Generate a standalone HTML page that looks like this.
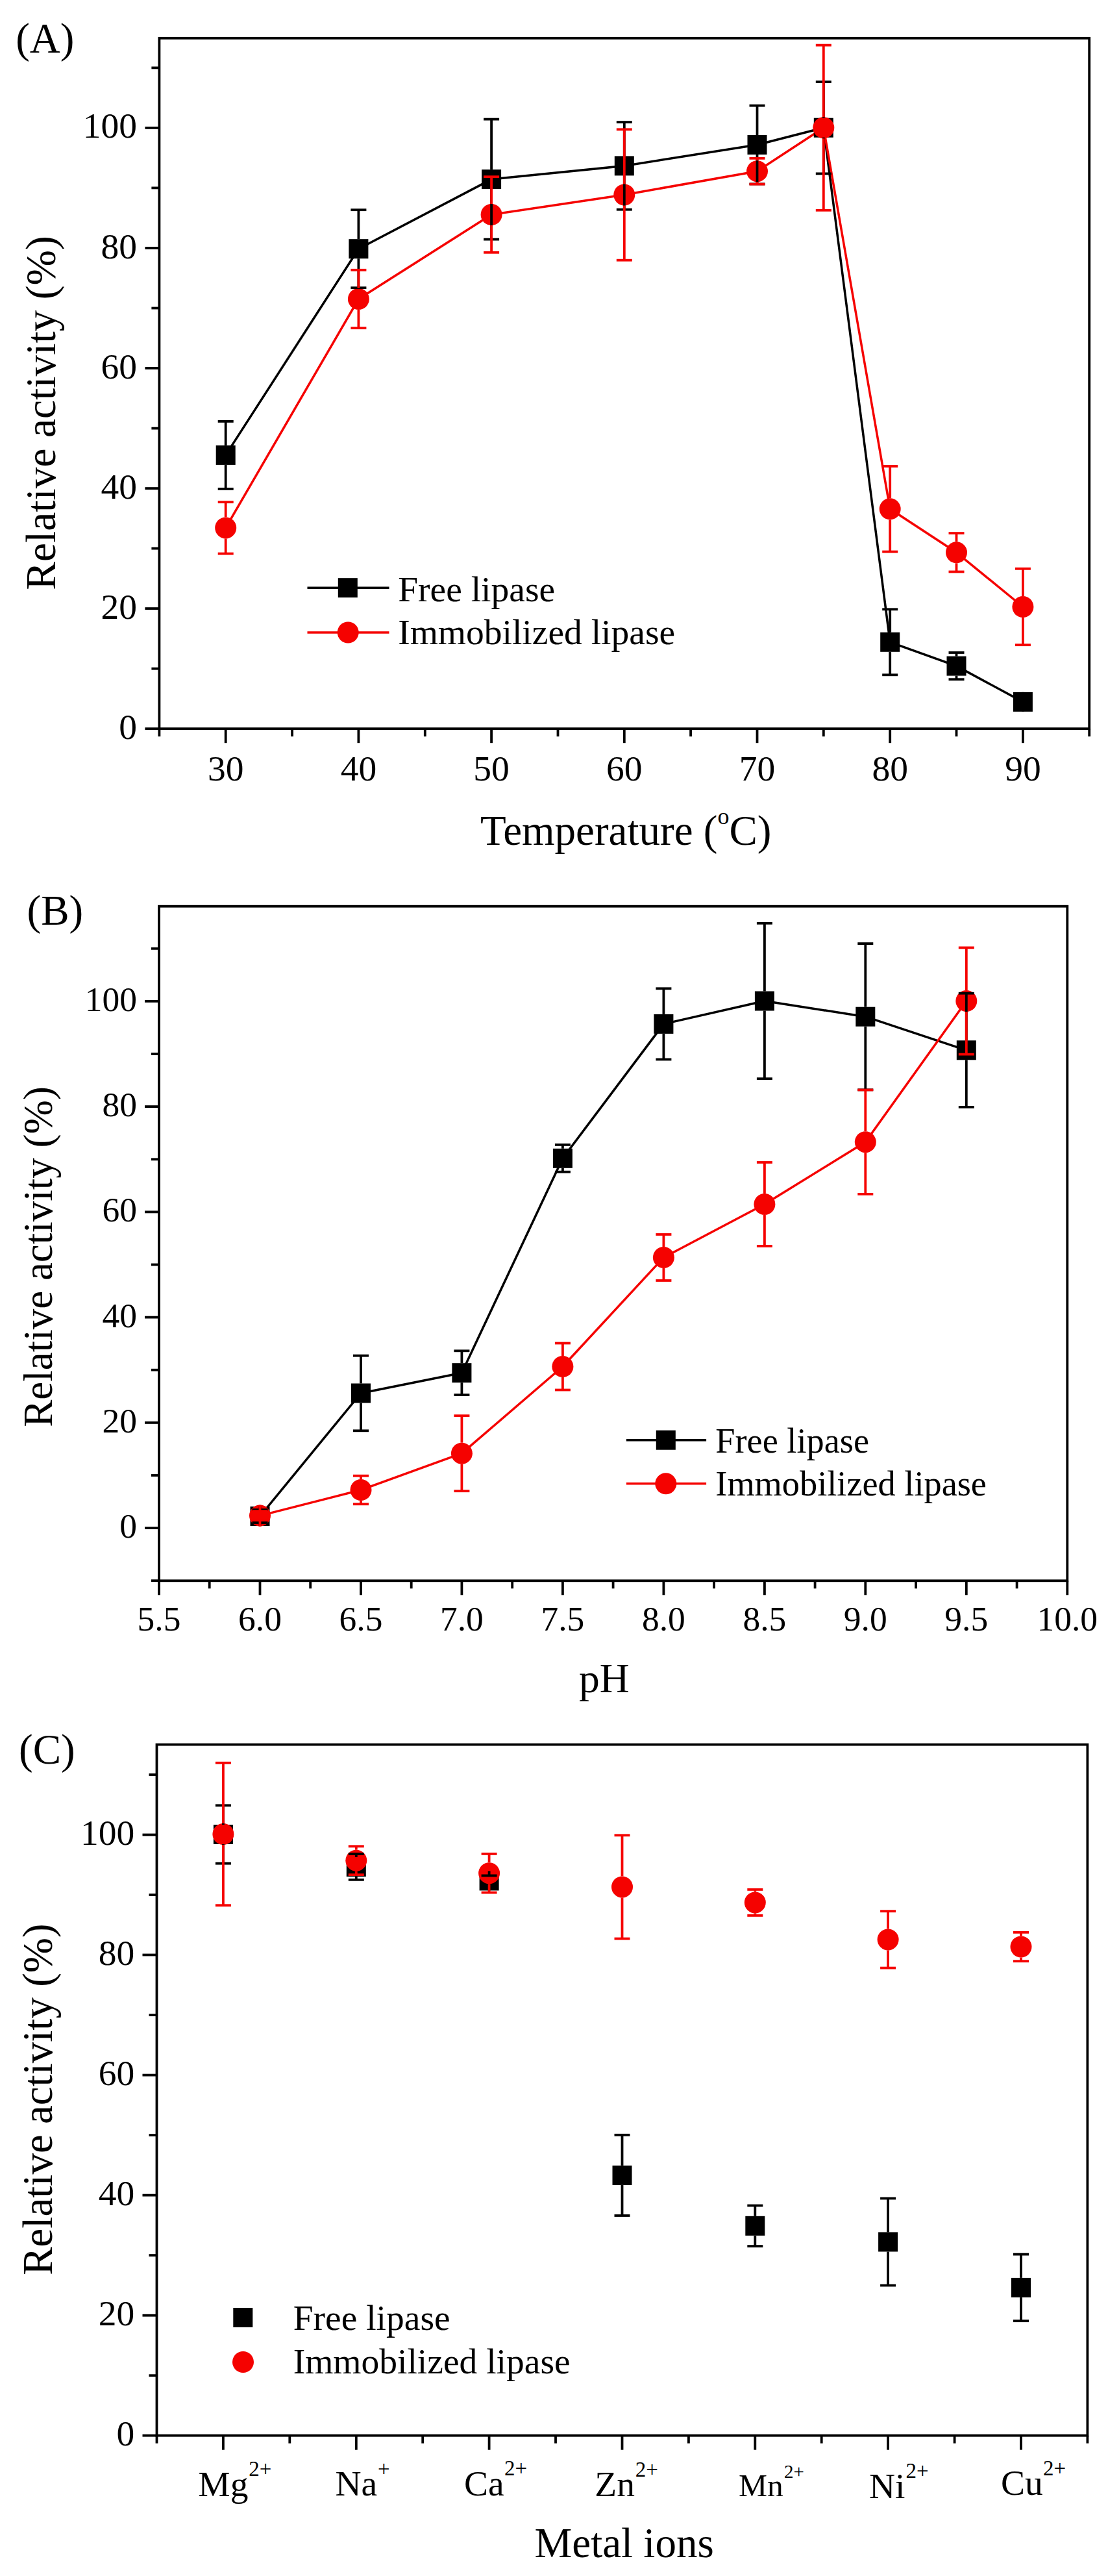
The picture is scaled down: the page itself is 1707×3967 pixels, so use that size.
<!DOCTYPE html><html><head><meta charset="utf-8"><title>Lipase activity</title><style>html,body{margin:0;padding:0;background:#fff}svg{display:block}text{font-family:'Liberation Serif', 'Times New Roman', serif;fill:#000}</style></head><body>
<svg width="1707" height="3967" viewBox="0 0 1707 3967">
<rect width="1707" height="3967" fill="#fff"/>
<line x1="347.7" y1="1122.2" x2="347.7" y2="1144.2" stroke="#000" stroke-width="3.8" stroke-linecap="butt"/>
<line x1="552.4" y1="1122.2" x2="552.4" y2="1144.2" stroke="#000" stroke-width="3.8" stroke-linecap="butt"/>
<line x1="757.1" y1="1122.2" x2="757.1" y2="1144.2" stroke="#000" stroke-width="3.8" stroke-linecap="butt"/>
<line x1="961.8" y1="1122.2" x2="961.8" y2="1144.2" stroke="#000" stroke-width="3.8" stroke-linecap="butt"/>
<line x1="1166.5" y1="1122.2" x2="1166.5" y2="1144.2" stroke="#000" stroke-width="3.8" stroke-linecap="butt"/>
<line x1="1371.2" y1="1122.2" x2="1371.2" y2="1144.2" stroke="#000" stroke-width="3.8" stroke-linecap="butt"/>
<line x1="1575.9" y1="1122.2" x2="1575.9" y2="1144.2" stroke="#000" stroke-width="3.8" stroke-linecap="butt"/>
<line x1="245.4" y1="1122.2" x2="245.4" y2="1134.2" stroke="#000" stroke-width="3.8" stroke-linecap="butt"/>
<line x1="450.1" y1="1122.2" x2="450.1" y2="1134.2" stroke="#000" stroke-width="3.8" stroke-linecap="butt"/>
<line x1="654.8" y1="1122.2" x2="654.8" y2="1134.2" stroke="#000" stroke-width="3.8" stroke-linecap="butt"/>
<line x1="859.5" y1="1122.2" x2="859.5" y2="1134.2" stroke="#000" stroke-width="3.8" stroke-linecap="butt"/>
<line x1="1064.1" y1="1122.2" x2="1064.1" y2="1134.2" stroke="#000" stroke-width="3.8" stroke-linecap="butt"/>
<line x1="1268.8" y1="1122.2" x2="1268.8" y2="1134.2" stroke="#000" stroke-width="3.8" stroke-linecap="butt"/>
<line x1="1473.5" y1="1122.2" x2="1473.5" y2="1134.2" stroke="#000" stroke-width="3.8" stroke-linecap="butt"/>
<line x1="1678.2" y1="1122.2" x2="1678.2" y2="1134.2" stroke="#000" stroke-width="3.8" stroke-linecap="butt"/>
<line x1="245.4" y1="1122.2" x2="223.4" y2="1122.2" stroke="#000" stroke-width="3.8" stroke-linecap="butt"/>
<line x1="245.4" y1="937.1" x2="223.4" y2="937.1" stroke="#000" stroke-width="3.8" stroke-linecap="butt"/>
<line x1="245.4" y1="752.1" x2="223.4" y2="752.1" stroke="#000" stroke-width="3.8" stroke-linecap="butt"/>
<line x1="245.4" y1="567.0" x2="223.4" y2="567.0" stroke="#000" stroke-width="3.8" stroke-linecap="butt"/>
<line x1="245.4" y1="382.0" x2="223.4" y2="382.0" stroke="#000" stroke-width="3.8" stroke-linecap="butt"/>
<line x1="245.4" y1="196.9" x2="223.4" y2="196.9" stroke="#000" stroke-width="3.8" stroke-linecap="butt"/>
<line x1="245.4" y1="1029.7" x2="233.4" y2="1029.7" stroke="#000" stroke-width="3.8" stroke-linecap="butt"/>
<line x1="245.4" y1="844.6" x2="233.4" y2="844.6" stroke="#000" stroke-width="3.8" stroke-linecap="butt"/>
<line x1="245.4" y1="659.6" x2="233.4" y2="659.6" stroke="#000" stroke-width="3.8" stroke-linecap="butt"/>
<line x1="245.4" y1="474.5" x2="233.4" y2="474.5" stroke="#000" stroke-width="3.8" stroke-linecap="butt"/>
<line x1="245.4" y1="289.4" x2="233.4" y2="289.4" stroke="#000" stroke-width="3.8" stroke-linecap="butt"/>
<line x1="245.4" y1="104.4" x2="233.4" y2="104.4" stroke="#000" stroke-width="3.8" stroke-linecap="butt"/>
<rect x="245.4" y="58.8" width="1432.8" height="1063.4" fill="none" stroke="#000" stroke-width="3.8" stroke-linejoin="miter"/>
<polyline points="347.7,700.9 552.4,383.2 757.1,276.1 961.8,255.4 1166.5,223.0 1268.8,196.7 1371.2,988.8 1473.5,1025.6 1575.9,1080.9" fill="none" stroke="#000" stroke-width="3.5" stroke-linejoin="round"/>
<polyline points="347.7,812.9 552.4,460.5 757.1,330.5 961.8,300.0 1166.5,263.7 1268.8,196.7 1371.2,783.8 1473.5,850.8 1575.9,934.5" fill="none" stroke="#f50200" stroke-width="3.5" stroke-linejoin="round"/>
<rect x="332.7" y="685.9" width="30.0" height="30.0" fill="#000"/>
<rect x="537.4" y="368.2" width="30.0" height="30.0" fill="#000"/>
<rect x="742.1" y="261.1" width="30.0" height="30.0" fill="#000"/>
<rect x="946.8" y="240.4" width="30.0" height="30.0" fill="#000"/>
<rect x="1151.5" y="208.0" width="30.0" height="30.0" fill="#000"/>
<rect x="1253.8" y="181.7" width="30.0" height="30.0" fill="#000"/>
<rect x="1356.2" y="973.8" width="30.0" height="30.0" fill="#000"/>
<rect x="1458.5" y="1010.6" width="30.0" height="30.0" fill="#000"/>
<rect x="1560.9" y="1065.9" width="30.0" height="30.0" fill="#000"/>
<circle cx="347.7" cy="812.9" r="16.5" fill="#f50200"/>
<circle cx="552.4" cy="460.5" r="16.5" fill="#f50200"/>
<circle cx="757.1" cy="330.5" r="16.5" fill="#f50200"/>
<circle cx="961.8" cy="300.0" r="16.5" fill="#f50200"/>
<circle cx="1166.5" cy="263.7" r="16.5" fill="#f50200"/>
<circle cx="1268.8" cy="196.7" r="16.5" fill="#f50200"/>
<circle cx="1371.2" cy="783.8" r="16.5" fill="#f50200"/>
<circle cx="1473.5" cy="850.8" r="16.5" fill="#f50200"/>
<circle cx="1575.9" cy="934.5" r="16.5" fill="#f50200"/>
<line x1="347.7" y1="685.9" x2="347.7" y2="648.9" stroke="#000" stroke-width="3.8" stroke-linecap="butt"/>
<line x1="347.7" y1="715.9" x2="347.7" y2="752.9" stroke="#000" stroke-width="3.8" stroke-linecap="butt"/>
<line x1="335.7" y1="648.9" x2="359.7" y2="648.9" stroke="#000" stroke-width="3.8" stroke-linecap="butt"/>
<line x1="335.7" y1="752.9" x2="359.7" y2="752.9" stroke="#000" stroke-width="3.8" stroke-linecap="butt"/>
<line x1="552.4" y1="368.2" x2="552.4" y2="323.2" stroke="#000" stroke-width="3.8" stroke-linecap="butt"/>
<line x1="552.4" y1="398.2" x2="552.4" y2="443.2" stroke="#000" stroke-width="3.8" stroke-linecap="butt"/>
<line x1="540.4" y1="323.2" x2="564.4" y2="323.2" stroke="#000" stroke-width="3.8" stroke-linecap="butt"/>
<line x1="540.4" y1="443.2" x2="564.4" y2="443.2" stroke="#000" stroke-width="3.8" stroke-linecap="butt"/>
<line x1="757.1" y1="261.1" x2="757.1" y2="183.6" stroke="#000" stroke-width="3.8" stroke-linecap="butt"/>
<line x1="757.1" y1="291.1" x2="757.1" y2="368.6" stroke="#000" stroke-width="3.8" stroke-linecap="butt"/>
<line x1="745.1" y1="183.6" x2="769.1" y2="183.6" stroke="#000" stroke-width="3.8" stroke-linecap="butt"/>
<line x1="745.1" y1="368.6" x2="769.1" y2="368.6" stroke="#000" stroke-width="3.8" stroke-linecap="butt"/>
<line x1="961.8" y1="240.4" x2="961.8" y2="188.1" stroke="#000" stroke-width="3.8" stroke-linecap="butt"/>
<line x1="961.8" y1="270.4" x2="961.8" y2="322.7" stroke="#000" stroke-width="3.8" stroke-linecap="butt"/>
<line x1="949.8" y1="188.1" x2="973.8" y2="188.1" stroke="#000" stroke-width="3.8" stroke-linecap="butt"/>
<line x1="949.8" y1="322.7" x2="973.8" y2="322.7" stroke="#000" stroke-width="3.8" stroke-linecap="butt"/>
<line x1="1166.5" y1="208.0" x2="1166.5" y2="162.6" stroke="#000" stroke-width="3.8" stroke-linecap="butt"/>
<line x1="1166.5" y1="238.0" x2="1166.5" y2="283.4" stroke="#000" stroke-width="3.8" stroke-linecap="butt"/>
<line x1="1154.5" y1="162.6" x2="1178.5" y2="162.6" stroke="#000" stroke-width="3.8" stroke-linecap="butt"/>
<line x1="1154.5" y1="283.4" x2="1178.5" y2="283.4" stroke="#000" stroke-width="3.8" stroke-linecap="butt"/>
<line x1="1268.8" y1="181.7" x2="1268.8" y2="126.0" stroke="#000" stroke-width="3.8" stroke-linecap="butt"/>
<line x1="1268.8" y1="211.7" x2="1268.8" y2="267.4" stroke="#000" stroke-width="3.8" stroke-linecap="butt"/>
<line x1="1256.8" y1="126.0" x2="1280.8" y2="126.0" stroke="#000" stroke-width="3.8" stroke-linecap="butt"/>
<line x1="1256.8" y1="267.4" x2="1280.8" y2="267.4" stroke="#000" stroke-width="3.8" stroke-linecap="butt"/>
<line x1="1371.2" y1="973.8" x2="1371.2" y2="938.3" stroke="#000" stroke-width="3.8" stroke-linecap="butt"/>
<line x1="1371.2" y1="1003.8" x2="1371.2" y2="1039.3" stroke="#000" stroke-width="3.8" stroke-linecap="butt"/>
<line x1="1359.2" y1="938.3" x2="1383.2" y2="938.3" stroke="#000" stroke-width="3.8" stroke-linecap="butt"/>
<line x1="1359.2" y1="1039.3" x2="1383.2" y2="1039.3" stroke="#000" stroke-width="3.8" stroke-linecap="butt"/>
<line x1="1473.5" y1="1010.6" x2="1473.5" y2="1005.0" stroke="#000" stroke-width="3.8" stroke-linecap="butt"/>
<line x1="1473.5" y1="1040.6" x2="1473.5" y2="1046.2" stroke="#000" stroke-width="3.8" stroke-linecap="butt"/>
<line x1="1461.5" y1="1005.0" x2="1485.5" y2="1005.0" stroke="#000" stroke-width="3.8" stroke-linecap="butt"/>
<line x1="1461.5" y1="1046.2" x2="1485.5" y2="1046.2" stroke="#000" stroke-width="3.8" stroke-linecap="butt"/>
<line x1="1575.9" y1="1065.9" x2="1575.9" y2="1074.9" stroke="#000" stroke-width="3.8" stroke-linecap="butt"/>
<line x1="1575.9" y1="1095.9" x2="1575.9" y2="1086.9" stroke="#000" stroke-width="3.8" stroke-linecap="butt"/>
<line x1="1563.9" y1="1074.9" x2="1587.9" y2="1074.9" stroke="#000" stroke-width="3.8" stroke-linecap="butt"/>
<line x1="1563.9" y1="1086.9" x2="1587.9" y2="1086.9" stroke="#000" stroke-width="3.8" stroke-linecap="butt"/>
<line x1="347.7" y1="796.4" x2="347.7" y2="773.2" stroke="#f50200" stroke-width="3.8" stroke-linecap="butt"/>
<line x1="347.7" y1="829.4" x2="347.7" y2="852.6" stroke="#f50200" stroke-width="3.8" stroke-linecap="butt"/>
<line x1="335.7" y1="773.2" x2="359.7" y2="773.2" stroke="#f50200" stroke-width="3.8" stroke-linecap="butt"/>
<line x1="335.7" y1="852.6" x2="359.7" y2="852.6" stroke="#f50200" stroke-width="3.8" stroke-linecap="butt"/>
<line x1="552.4" y1="444.0" x2="552.4" y2="415.8" stroke="#f50200" stroke-width="3.8" stroke-linecap="butt"/>
<line x1="552.4" y1="477.0" x2="552.4" y2="505.2" stroke="#f50200" stroke-width="3.8" stroke-linecap="butt"/>
<line x1="540.4" y1="415.8" x2="564.4" y2="415.8" stroke="#f50200" stroke-width="3.8" stroke-linecap="butt"/>
<line x1="540.4" y1="505.2" x2="564.4" y2="505.2" stroke="#f50200" stroke-width="3.8" stroke-linecap="butt"/>
<line x1="757.1" y1="314.0" x2="757.1" y2="272.2" stroke="#f50200" stroke-width="3.8" stroke-linecap="butt"/>
<line x1="757.1" y1="347.0" x2="757.1" y2="388.8" stroke="#f50200" stroke-width="3.8" stroke-linecap="butt"/>
<line x1="745.1" y1="272.2" x2="769.1" y2="272.2" stroke="#f50200" stroke-width="3.8" stroke-linecap="butt"/>
<line x1="745.1" y1="388.8" x2="769.1" y2="388.8" stroke="#f50200" stroke-width="3.8" stroke-linecap="butt"/>
<line x1="961.8" y1="283.5" x2="961.8" y2="199.3" stroke="#f50200" stroke-width="3.8" stroke-linecap="butt"/>
<line x1="961.8" y1="316.5" x2="961.8" y2="400.7" stroke="#f50200" stroke-width="3.8" stroke-linecap="butt"/>
<line x1="949.8" y1="199.3" x2="973.8" y2="199.3" stroke="#f50200" stroke-width="3.8" stroke-linecap="butt"/>
<line x1="949.8" y1="400.7" x2="973.8" y2="400.7" stroke="#f50200" stroke-width="3.8" stroke-linecap="butt"/>
<line x1="1166.5" y1="247.2" x2="1166.5" y2="243.8" stroke="#f50200" stroke-width="3.8" stroke-linecap="butt"/>
<line x1="1166.5" y1="280.2" x2="1166.5" y2="283.6" stroke="#f50200" stroke-width="3.8" stroke-linecap="butt"/>
<line x1="1154.5" y1="243.8" x2="1178.5" y2="243.8" stroke="#f50200" stroke-width="3.8" stroke-linecap="butt"/>
<line x1="1154.5" y1="283.6" x2="1178.5" y2="283.6" stroke="#f50200" stroke-width="3.8" stroke-linecap="butt"/>
<line x1="1268.8" y1="180.2" x2="1268.8" y2="69.6" stroke="#f50200" stroke-width="3.8" stroke-linecap="butt"/>
<line x1="1268.8" y1="213.2" x2="1268.8" y2="323.8" stroke="#f50200" stroke-width="3.8" stroke-linecap="butt"/>
<line x1="1256.8" y1="69.6" x2="1280.8" y2="69.6" stroke="#f50200" stroke-width="3.8" stroke-linecap="butt"/>
<line x1="1256.8" y1="323.8" x2="1280.8" y2="323.8" stroke="#f50200" stroke-width="3.8" stroke-linecap="butt"/>
<line x1="1371.2" y1="767.3" x2="1371.2" y2="718.0" stroke="#f50200" stroke-width="3.8" stroke-linecap="butt"/>
<line x1="1371.2" y1="800.3" x2="1371.2" y2="849.6" stroke="#f50200" stroke-width="3.8" stroke-linecap="butt"/>
<line x1="1359.2" y1="718.0" x2="1383.2" y2="718.0" stroke="#f50200" stroke-width="3.8" stroke-linecap="butt"/>
<line x1="1359.2" y1="849.6" x2="1383.2" y2="849.6" stroke="#f50200" stroke-width="3.8" stroke-linecap="butt"/>
<line x1="1473.5" y1="834.3" x2="1473.5" y2="821.1" stroke="#f50200" stroke-width="3.8" stroke-linecap="butt"/>
<line x1="1473.5" y1="867.3" x2="1473.5" y2="880.5" stroke="#f50200" stroke-width="3.8" stroke-linecap="butt"/>
<line x1="1461.5" y1="821.1" x2="1485.5" y2="821.1" stroke="#f50200" stroke-width="3.8" stroke-linecap="butt"/>
<line x1="1461.5" y1="880.5" x2="1485.5" y2="880.5" stroke="#f50200" stroke-width="3.8" stroke-linecap="butt"/>
<line x1="1575.9" y1="918.0" x2="1575.9" y2="875.8" stroke="#f50200" stroke-width="3.8" stroke-linecap="butt"/>
<line x1="1575.9" y1="951.0" x2="1575.9" y2="993.2" stroke="#f50200" stroke-width="3.8" stroke-linecap="butt"/>
<line x1="1563.9" y1="875.8" x2="1587.9" y2="875.8" stroke="#f50200" stroke-width="3.8" stroke-linecap="butt"/>
<line x1="1563.9" y1="993.2" x2="1587.9" y2="993.2" stroke="#f50200" stroke-width="3.8" stroke-linecap="butt"/>
<text x="211.0" y="1137.7" font-size="55.5" text-anchor="end">0</text>
<text x="211.0" y="952.6" font-size="55.5" text-anchor="end">20</text>
<text x="211.0" y="767.6" font-size="55.5" text-anchor="end">40</text>
<text x="211.0" y="582.5" font-size="55.5" text-anchor="end">60</text>
<text x="211.0" y="397.5" font-size="55.5" text-anchor="end">80</text>
<text x="211.0" y="212.4" font-size="55.5" text-anchor="end">100</text>
<text x="347.7" y="1201.5" font-size="55.5" text-anchor="middle">30</text>
<text x="552.4" y="1201.5" font-size="55.5" text-anchor="middle">40</text>
<text x="757.1" y="1201.5" font-size="55.5" text-anchor="middle">50</text>
<text x="961.8" y="1201.5" font-size="55.5" text-anchor="middle">60</text>
<text x="1166.5" y="1201.5" font-size="55.5" text-anchor="middle">70</text>
<text x="1371.2" y="1201.5" font-size="55.5" text-anchor="middle">80</text>
<text x="1575.9" y="1201.5" font-size="55.5" text-anchor="middle">90</text>
<text x="24.2" y="80.5" font-size="65" text-anchor="start">(A)</text>
<text transform="translate(84.6,635.9) rotate(-90)" font-size="65.5" text-anchor="middle">Relative activity (%)</text>
<text x="740" y="1301.2" font-size="65">Temperature (<tspan font-size="36" dy="-32">o</tspan><tspan dy="32">C)</tspan></text>
<line x1="473.5" y1="905.2" x2="599.5" y2="905.2" stroke="#000" stroke-width="3.5" stroke-linecap="butt"/>
<rect x="520.8" y="890.2" width="30.0" height="30.0" fill="#000"/>
<line x1="473.5" y1="974.0" x2="599.5" y2="974.0" stroke="#f50200" stroke-width="3.5" stroke-linecap="butt"/>
<circle cx="536.2" cy="974.0" r="16.5" fill="#f50200"/>
<text x="613.2" y="925.5" font-size="55.5" text-anchor="start">Free lipase</text>
<text x="613.2" y="991.9" font-size="55.5" text-anchor="start">Immobilized lipase</text>
<line x1="245.0" y1="2434.3" x2="245.0" y2="2456.3" stroke="#000" stroke-width="3.8" stroke-linecap="butt"/>
<line x1="400.5" y1="2434.3" x2="400.5" y2="2456.3" stroke="#000" stroke-width="3.8" stroke-linecap="butt"/>
<line x1="556.0" y1="2434.3" x2="556.0" y2="2456.3" stroke="#000" stroke-width="3.8" stroke-linecap="butt"/>
<line x1="711.4" y1="2434.3" x2="711.4" y2="2456.3" stroke="#000" stroke-width="3.8" stroke-linecap="butt"/>
<line x1="866.9" y1="2434.3" x2="866.9" y2="2456.3" stroke="#000" stroke-width="3.8" stroke-linecap="butt"/>
<line x1="1022.4" y1="2434.3" x2="1022.4" y2="2456.3" stroke="#000" stroke-width="3.8" stroke-linecap="butt"/>
<line x1="1177.9" y1="2434.3" x2="1177.9" y2="2456.3" stroke="#000" stroke-width="3.8" stroke-linecap="butt"/>
<line x1="1333.3" y1="2434.3" x2="1333.3" y2="2456.3" stroke="#000" stroke-width="3.8" stroke-linecap="butt"/>
<line x1="1488.8" y1="2434.3" x2="1488.8" y2="2456.3" stroke="#000" stroke-width="3.8" stroke-linecap="butt"/>
<line x1="1644.3" y1="2434.3" x2="1644.3" y2="2456.3" stroke="#000" stroke-width="3.8" stroke-linecap="butt"/>
<line x1="322.7" y1="2434.3" x2="322.7" y2="2446.3" stroke="#000" stroke-width="3.8" stroke-linecap="butt"/>
<line x1="478.2" y1="2434.3" x2="478.2" y2="2446.3" stroke="#000" stroke-width="3.8" stroke-linecap="butt"/>
<line x1="633.7" y1="2434.3" x2="633.7" y2="2446.3" stroke="#000" stroke-width="3.8" stroke-linecap="butt"/>
<line x1="789.2" y1="2434.3" x2="789.2" y2="2446.3" stroke="#000" stroke-width="3.8" stroke-linecap="butt"/>
<line x1="944.6" y1="2434.3" x2="944.6" y2="2446.3" stroke="#000" stroke-width="3.8" stroke-linecap="butt"/>
<line x1="1100.1" y1="2434.3" x2="1100.1" y2="2446.3" stroke="#000" stroke-width="3.8" stroke-linecap="butt"/>
<line x1="1255.6" y1="2434.3" x2="1255.6" y2="2446.3" stroke="#000" stroke-width="3.8" stroke-linecap="butt"/>
<line x1="1411.1" y1="2434.3" x2="1411.1" y2="2446.3" stroke="#000" stroke-width="3.8" stroke-linecap="butt"/>
<line x1="1566.6" y1="2434.3" x2="1566.6" y2="2446.3" stroke="#000" stroke-width="3.8" stroke-linecap="butt"/>
<line x1="245.0" y1="2353.1" x2="223.0" y2="2353.1" stroke="#000" stroke-width="3.8" stroke-linecap="butt"/>
<line x1="245.0" y1="2190.9" x2="223.0" y2="2190.9" stroke="#000" stroke-width="3.8" stroke-linecap="butt"/>
<line x1="245.0" y1="2028.6" x2="223.0" y2="2028.6" stroke="#000" stroke-width="3.8" stroke-linecap="butt"/>
<line x1="245.0" y1="1866.4" x2="223.0" y2="1866.4" stroke="#000" stroke-width="3.8" stroke-linecap="butt"/>
<line x1="245.0" y1="1704.1" x2="223.0" y2="1704.1" stroke="#000" stroke-width="3.8" stroke-linecap="butt"/>
<line x1="245.0" y1="1541.9" x2="223.0" y2="1541.9" stroke="#000" stroke-width="3.8" stroke-linecap="butt"/>
<line x1="245.0" y1="2434.2" x2="233.0" y2="2434.2" stroke="#000" stroke-width="3.8" stroke-linecap="butt"/>
<line x1="245.0" y1="2272.0" x2="233.0" y2="2272.0" stroke="#000" stroke-width="3.8" stroke-linecap="butt"/>
<line x1="245.0" y1="2109.7" x2="233.0" y2="2109.7" stroke="#000" stroke-width="3.8" stroke-linecap="butt"/>
<line x1="245.0" y1="1947.5" x2="233.0" y2="1947.5" stroke="#000" stroke-width="3.8" stroke-linecap="butt"/>
<line x1="245.0" y1="1785.3" x2="233.0" y2="1785.3" stroke="#000" stroke-width="3.8" stroke-linecap="butt"/>
<line x1="245.0" y1="1623.0" x2="233.0" y2="1623.0" stroke="#000" stroke-width="3.8" stroke-linecap="butt"/>
<line x1="245.0" y1="1460.8" x2="233.0" y2="1460.8" stroke="#000" stroke-width="3.8" stroke-linecap="butt"/>
<rect x="245.0" y="1395.7" width="1399.3" height="1038.6" fill="none" stroke="#000" stroke-width="3.8" stroke-linejoin="miter"/>
<polyline points="400.5,2335.0 556.0,2145.5 711.4,2114.2 866.9,1783.8 1022.4,1576.9 1177.9,1541.5 1333.3,1565.7 1488.8,1617.3" fill="none" stroke="#000" stroke-width="3.5" stroke-linejoin="round"/>
<polyline points="400.5,2334.1 556.0,2294.5 711.4,2238.2 866.9,2104.5 1022.4,1936.5 1177.9,1854.5 1333.3,1758.7 1488.8,1541.5" fill="none" stroke="#f50200" stroke-width="3.5" stroke-linejoin="round"/>
<rect x="385.5" y="2320.0" width="30.0" height="30.0" fill="#000"/>
<rect x="541.0" y="2130.5" width="30.0" height="30.0" fill="#000"/>
<rect x="696.4" y="2099.2" width="30.0" height="30.0" fill="#000"/>
<rect x="851.9" y="1768.8" width="30.0" height="30.0" fill="#000"/>
<rect x="1007.4" y="1561.9" width="30.0" height="30.0" fill="#000"/>
<rect x="1162.9" y="1526.5" width="30.0" height="30.0" fill="#000"/>
<rect x="1318.3" y="1550.7" width="30.0" height="30.0" fill="#000"/>
<rect x="1473.8" y="1602.3" width="30.0" height="30.0" fill="#000"/>
<circle cx="400.5" cy="2334.1" r="16.5" fill="#f50200"/>
<circle cx="556.0" cy="2294.5" r="16.5" fill="#f50200"/>
<circle cx="711.4" cy="2238.2" r="16.5" fill="#f50200"/>
<circle cx="866.9" cy="2104.5" r="16.5" fill="#f50200"/>
<circle cx="1022.4" cy="1936.5" r="16.5" fill="#f50200"/>
<circle cx="1177.9" cy="1854.5" r="16.5" fill="#f50200"/>
<circle cx="1333.3" cy="1758.7" r="16.5" fill="#f50200"/>
<circle cx="1488.8" cy="1541.5" r="16.5" fill="#f50200"/>
<line x1="400.5" y1="2320.0" x2="400.5" y2="2325.0" stroke="#000" stroke-width="3.8" stroke-linecap="butt"/>
<line x1="400.5" y1="2350.0" x2="400.5" y2="2345.0" stroke="#000" stroke-width="3.8" stroke-linecap="butt"/>
<line x1="388.5" y1="2325.0" x2="412.5" y2="2325.0" stroke="#000" stroke-width="3.8" stroke-linecap="butt"/>
<line x1="388.5" y1="2345.0" x2="412.5" y2="2345.0" stroke="#000" stroke-width="3.8" stroke-linecap="butt"/>
<line x1="556.0" y1="2130.5" x2="556.0" y2="2087.7" stroke="#000" stroke-width="3.8" stroke-linecap="butt"/>
<line x1="556.0" y1="2160.5" x2="556.0" y2="2203.3" stroke="#000" stroke-width="3.8" stroke-linecap="butt"/>
<line x1="544.0" y1="2087.7" x2="568.0" y2="2087.7" stroke="#000" stroke-width="3.8" stroke-linecap="butt"/>
<line x1="544.0" y1="2203.3" x2="568.0" y2="2203.3" stroke="#000" stroke-width="3.8" stroke-linecap="butt"/>
<line x1="711.4" y1="2099.2" x2="711.4" y2="2080.3" stroke="#000" stroke-width="3.8" stroke-linecap="butt"/>
<line x1="711.4" y1="2129.2" x2="711.4" y2="2148.1" stroke="#000" stroke-width="3.8" stroke-linecap="butt"/>
<line x1="699.4" y1="2080.3" x2="723.4" y2="2080.3" stroke="#000" stroke-width="3.8" stroke-linecap="butt"/>
<line x1="699.4" y1="2148.1" x2="723.4" y2="2148.1" stroke="#000" stroke-width="3.8" stroke-linecap="butt"/>
<line x1="866.9" y1="1768.8" x2="866.9" y2="1762.9" stroke="#000" stroke-width="3.8" stroke-linecap="butt"/>
<line x1="866.9" y1="1798.8" x2="866.9" y2="1804.7" stroke="#000" stroke-width="3.8" stroke-linecap="butt"/>
<line x1="854.9" y1="1762.9" x2="878.9" y2="1762.9" stroke="#000" stroke-width="3.8" stroke-linecap="butt"/>
<line x1="854.9" y1="1804.7" x2="878.9" y2="1804.7" stroke="#000" stroke-width="3.8" stroke-linecap="butt"/>
<line x1="1022.4" y1="1561.9" x2="1022.4" y2="1522.3" stroke="#000" stroke-width="3.8" stroke-linecap="butt"/>
<line x1="1022.4" y1="1591.9" x2="1022.4" y2="1631.5" stroke="#000" stroke-width="3.8" stroke-linecap="butt"/>
<line x1="1010.4" y1="1522.3" x2="1034.4" y2="1522.3" stroke="#000" stroke-width="3.8" stroke-linecap="butt"/>
<line x1="1010.4" y1="1631.5" x2="1034.4" y2="1631.5" stroke="#000" stroke-width="3.8" stroke-linecap="butt"/>
<line x1="1177.9" y1="1526.5" x2="1177.9" y2="1421.8" stroke="#000" stroke-width="3.8" stroke-linecap="butt"/>
<line x1="1177.9" y1="1556.5" x2="1177.9" y2="1661.2" stroke="#000" stroke-width="3.8" stroke-linecap="butt"/>
<line x1="1165.9" y1="1421.8" x2="1189.9" y2="1421.8" stroke="#000" stroke-width="3.8" stroke-linecap="butt"/>
<line x1="1165.9" y1="1661.2" x2="1189.9" y2="1661.2" stroke="#000" stroke-width="3.8" stroke-linecap="butt"/>
<line x1="1333.3" y1="1550.7" x2="1333.3" y2="1453.1" stroke="#000" stroke-width="3.8" stroke-linecap="butt"/>
<line x1="1333.3" y1="1580.7" x2="1333.3" y2="1678.3" stroke="#000" stroke-width="3.8" stroke-linecap="butt"/>
<line x1="1321.3" y1="1453.1" x2="1345.3" y2="1453.1" stroke="#000" stroke-width="3.8" stroke-linecap="butt"/>
<line x1="1321.3" y1="1678.3" x2="1345.3" y2="1678.3" stroke="#000" stroke-width="3.8" stroke-linecap="butt"/>
<line x1="1488.8" y1="1602.3" x2="1488.8" y2="1529.7" stroke="#000" stroke-width="3.8" stroke-linecap="butt"/>
<line x1="1488.8" y1="1632.3" x2="1488.8" y2="1704.9" stroke="#000" stroke-width="3.8" stroke-linecap="butt"/>
<line x1="1476.8" y1="1529.7" x2="1500.8" y2="1529.7" stroke="#000" stroke-width="3.8" stroke-linecap="butt"/>
<line x1="1476.8" y1="1704.9" x2="1500.8" y2="1704.9" stroke="#000" stroke-width="3.8" stroke-linecap="butt"/>
<line x1="400.5" y1="2317.6" x2="400.5" y2="2327.1" stroke="#f50200" stroke-width="3.8" stroke-linecap="butt"/>
<line x1="400.5" y1="2350.6" x2="400.5" y2="2341.1" stroke="#f50200" stroke-width="3.8" stroke-linecap="butt"/>
<line x1="388.5" y1="2327.1" x2="412.5" y2="2327.1" stroke="#f50200" stroke-width="3.8" stroke-linecap="butt"/>
<line x1="388.5" y1="2341.1" x2="412.5" y2="2341.1" stroke="#f50200" stroke-width="3.8" stroke-linecap="butt"/>
<line x1="556.0" y1="2278.0" x2="556.0" y2="2272.7" stroke="#f50200" stroke-width="3.8" stroke-linecap="butt"/>
<line x1="556.0" y1="2311.0" x2="556.0" y2="2316.3" stroke="#f50200" stroke-width="3.8" stroke-linecap="butt"/>
<line x1="544.0" y1="2272.7" x2="568.0" y2="2272.7" stroke="#f50200" stroke-width="3.8" stroke-linecap="butt"/>
<line x1="544.0" y1="2316.3" x2="568.0" y2="2316.3" stroke="#f50200" stroke-width="3.8" stroke-linecap="butt"/>
<line x1="711.4" y1="2221.7" x2="711.4" y2="2180.2" stroke="#f50200" stroke-width="3.8" stroke-linecap="butt"/>
<line x1="711.4" y1="2254.7" x2="711.4" y2="2296.2" stroke="#f50200" stroke-width="3.8" stroke-linecap="butt"/>
<line x1="699.4" y1="2180.2" x2="723.4" y2="2180.2" stroke="#f50200" stroke-width="3.8" stroke-linecap="butt"/>
<line x1="699.4" y1="2296.2" x2="723.4" y2="2296.2" stroke="#f50200" stroke-width="3.8" stroke-linecap="butt"/>
<line x1="866.9" y1="2088.0" x2="866.9" y2="2068.5" stroke="#f50200" stroke-width="3.8" stroke-linecap="butt"/>
<line x1="866.9" y1="2121.0" x2="866.9" y2="2140.5" stroke="#f50200" stroke-width="3.8" stroke-linecap="butt"/>
<line x1="854.9" y1="2068.5" x2="878.9" y2="2068.5" stroke="#f50200" stroke-width="3.8" stroke-linecap="butt"/>
<line x1="854.9" y1="2140.5" x2="878.9" y2="2140.5" stroke="#f50200" stroke-width="3.8" stroke-linecap="butt"/>
<line x1="1022.4" y1="1920.0" x2="1022.4" y2="1901.0" stroke="#f50200" stroke-width="3.8" stroke-linecap="butt"/>
<line x1="1022.4" y1="1953.0" x2="1022.4" y2="1972.0" stroke="#f50200" stroke-width="3.8" stroke-linecap="butt"/>
<line x1="1010.4" y1="1901.0" x2="1034.4" y2="1901.0" stroke="#f50200" stroke-width="3.8" stroke-linecap="butt"/>
<line x1="1010.4" y1="1972.0" x2="1034.4" y2="1972.0" stroke="#f50200" stroke-width="3.8" stroke-linecap="butt"/>
<line x1="1177.9" y1="1838.0" x2="1177.9" y2="1790.0" stroke="#f50200" stroke-width="3.8" stroke-linecap="butt"/>
<line x1="1177.9" y1="1871.0" x2="1177.9" y2="1919.0" stroke="#f50200" stroke-width="3.8" stroke-linecap="butt"/>
<line x1="1165.9" y1="1790.0" x2="1189.9" y2="1790.0" stroke="#f50200" stroke-width="3.8" stroke-linecap="butt"/>
<line x1="1165.9" y1="1919.0" x2="1189.9" y2="1919.0" stroke="#f50200" stroke-width="3.8" stroke-linecap="butt"/>
<line x1="1333.3" y1="1742.2" x2="1333.3" y2="1678.5" stroke="#f50200" stroke-width="3.8" stroke-linecap="butt"/>
<line x1="1333.3" y1="1775.2" x2="1333.3" y2="1838.9" stroke="#f50200" stroke-width="3.8" stroke-linecap="butt"/>
<line x1="1321.3" y1="1678.5" x2="1345.3" y2="1678.5" stroke="#f50200" stroke-width="3.8" stroke-linecap="butt"/>
<line x1="1321.3" y1="1838.9" x2="1345.3" y2="1838.9" stroke="#f50200" stroke-width="3.8" stroke-linecap="butt"/>
<line x1="1488.8" y1="1525.0" x2="1488.8" y2="1459.4" stroke="#f50200" stroke-width="3.8" stroke-linecap="butt"/>
<line x1="1488.8" y1="1558.0" x2="1488.8" y2="1623.6" stroke="#f50200" stroke-width="3.8" stroke-linecap="butt"/>
<line x1="1476.8" y1="1459.4" x2="1500.8" y2="1459.4" stroke="#f50200" stroke-width="3.8" stroke-linecap="butt"/>
<line x1="1476.8" y1="1623.6" x2="1500.8" y2="1623.6" stroke="#f50200" stroke-width="3.8" stroke-linecap="butt"/>
<text x="211.0" y="2368.1" font-size="53.5" text-anchor="end">0</text>
<text x="211.0" y="2205.9" font-size="53.5" text-anchor="end">20</text>
<text x="211.0" y="2043.6" font-size="53.5" text-anchor="end">40</text>
<text x="211.0" y="1881.4" font-size="53.5" text-anchor="end">60</text>
<text x="211.0" y="1719.1" font-size="53.5" text-anchor="end">80</text>
<text x="211.0" y="1556.9" font-size="53.5" text-anchor="end">100</text>
<text x="245.0" y="2510.5" font-size="53.5" text-anchor="middle">5.5</text>
<text x="400.5" y="2510.5" font-size="53.5" text-anchor="middle">6.0</text>
<text x="556.0" y="2510.5" font-size="53.5" text-anchor="middle">6.5</text>
<text x="711.4" y="2510.5" font-size="53.5" text-anchor="middle">7.0</text>
<text x="866.9" y="2510.5" font-size="53.5" text-anchor="middle">7.5</text>
<text x="1022.4" y="2510.5" font-size="53.5" text-anchor="middle">8.0</text>
<text x="1177.9" y="2510.5" font-size="53.5" text-anchor="middle">8.5</text>
<text x="1333.3" y="2510.5" font-size="53.5" text-anchor="middle">9.0</text>
<text x="1488.8" y="2510.5" font-size="53.5" text-anchor="middle">9.5</text>
<text x="1644.3" y="2510.5" font-size="53.5" text-anchor="middle">10.0</text>
<text x="41.6" y="1424.0" font-size="65" text-anchor="start">(B)</text>
<text transform="translate(80,1935.4) rotate(-90)" font-size="63" text-anchor="middle">Relative activity (%)</text>
<text x="892.0" y="2605.7" font-size="63.5" text-anchor="start">pH</text>
<line x1="964.9" y1="2217.7" x2="1088.1" y2="2217.7" stroke="#000" stroke-width="3.5" stroke-linecap="butt"/>
<rect x="1010.8" y="2202.7" width="30.0" height="30.0" fill="#000"/>
<line x1="964.9" y1="2284.8" x2="1088.1" y2="2284.8" stroke="#f50200" stroke-width="3.5" stroke-linecap="butt"/>
<circle cx="1025.8" cy="2284.8" r="16.5" fill="#f50200"/>
<text x="1102.3" y="2236.6" font-size="54.3" text-anchor="start">Free lipase</text>
<text x="1102.3" y="2303.2" font-size="54.3" text-anchor="start">Immobilized lipase</text>
<line x1="343.9" y1="3750.7" x2="343.9" y2="3772.7" stroke="#000" stroke-width="3.8" stroke-linecap="butt"/>
<line x1="548.8" y1="3750.7" x2="548.8" y2="3772.7" stroke="#000" stroke-width="3.8" stroke-linecap="butt"/>
<line x1="753.6" y1="3750.7" x2="753.6" y2="3772.7" stroke="#000" stroke-width="3.8" stroke-linecap="butt"/>
<line x1="958.5" y1="3750.7" x2="958.5" y2="3772.7" stroke="#000" stroke-width="3.8" stroke-linecap="butt"/>
<line x1="1163.3" y1="3750.7" x2="1163.3" y2="3772.7" stroke="#000" stroke-width="3.8" stroke-linecap="butt"/>
<line x1="1368.1" y1="3750.7" x2="1368.1" y2="3772.7" stroke="#000" stroke-width="3.8" stroke-linecap="butt"/>
<line x1="1573.0" y1="3750.7" x2="1573.0" y2="3772.7" stroke="#000" stroke-width="3.8" stroke-linecap="butt"/>
<line x1="241.5" y1="3750.7" x2="241.5" y2="3762.7" stroke="#000" stroke-width="3.8" stroke-linecap="butt"/>
<line x1="446.3" y1="3750.7" x2="446.3" y2="3762.7" stroke="#000" stroke-width="3.8" stroke-linecap="butt"/>
<line x1="651.2" y1="3750.7" x2="651.2" y2="3762.7" stroke="#000" stroke-width="3.8" stroke-linecap="butt"/>
<line x1="856.0" y1="3750.7" x2="856.0" y2="3762.7" stroke="#000" stroke-width="3.8" stroke-linecap="butt"/>
<line x1="1060.9" y1="3750.7" x2="1060.9" y2="3762.7" stroke="#000" stroke-width="3.8" stroke-linecap="butt"/>
<line x1="1265.7" y1="3750.7" x2="1265.7" y2="3762.7" stroke="#000" stroke-width="3.8" stroke-linecap="butt"/>
<line x1="1470.6" y1="3750.7" x2="1470.6" y2="3762.7" stroke="#000" stroke-width="3.8" stroke-linecap="butt"/>
<line x1="1675.4" y1="3750.7" x2="1675.4" y2="3762.7" stroke="#000" stroke-width="3.8" stroke-linecap="butt"/>
<line x1="241.5" y1="3750.7" x2="219.5" y2="3750.7" stroke="#000" stroke-width="3.8" stroke-linecap="butt"/>
<line x1="241.5" y1="3565.7" x2="219.5" y2="3565.7" stroke="#000" stroke-width="3.8" stroke-linecap="butt"/>
<line x1="241.5" y1="3380.6" x2="219.5" y2="3380.6" stroke="#000" stroke-width="3.8" stroke-linecap="butt"/>
<line x1="241.5" y1="3195.6" x2="219.5" y2="3195.6" stroke="#000" stroke-width="3.8" stroke-linecap="butt"/>
<line x1="241.5" y1="3010.5" x2="219.5" y2="3010.5" stroke="#000" stroke-width="3.8" stroke-linecap="butt"/>
<line x1="241.5" y1="2825.5" x2="219.5" y2="2825.5" stroke="#000" stroke-width="3.8" stroke-linecap="butt"/>
<line x1="241.5" y1="3658.2" x2="229.5" y2="3658.2" stroke="#000" stroke-width="3.8" stroke-linecap="butt"/>
<line x1="241.5" y1="3473.1" x2="229.5" y2="3473.1" stroke="#000" stroke-width="3.8" stroke-linecap="butt"/>
<line x1="241.5" y1="3288.1" x2="229.5" y2="3288.1" stroke="#000" stroke-width="3.8" stroke-linecap="butt"/>
<line x1="241.5" y1="3103.1" x2="229.5" y2="3103.1" stroke="#000" stroke-width="3.8" stroke-linecap="butt"/>
<line x1="241.5" y1="2918.0" x2="229.5" y2="2918.0" stroke="#000" stroke-width="3.8" stroke-linecap="butt"/>
<line x1="241.5" y1="2733.0" x2="229.5" y2="2733.0" stroke="#000" stroke-width="3.8" stroke-linecap="butt"/>
<rect x="241.5" y="2686.6" width="1433.9" height="1064.1" fill="none" stroke="#000" stroke-width="3.8" stroke-linejoin="miter"/>
<rect x="328.9" y="2810.0" width="30.0" height="30.0" fill="#000"/>
<rect x="533.8" y="2859.9" width="30.0" height="30.0" fill="#000"/>
<rect x="738.6" y="2881.4" width="30.0" height="30.0" fill="#000"/>
<rect x="943.5" y="3334.9" width="30.0" height="30.0" fill="#000"/>
<rect x="1148.3" y="3412.8" width="30.0" height="30.0" fill="#000"/>
<rect x="1353.1" y="3437.5" width="30.0" height="30.0" fill="#000"/>
<rect x="1558.0" y="3507.9" width="30.0" height="30.0" fill="#000"/>
<circle cx="343.9" cy="2824.5" r="16.5" fill="#f50200"/>
<circle cx="548.8" cy="2865.2" r="16.5" fill="#f50200"/>
<circle cx="753.6" cy="2884.7" r="16.5" fill="#f50200"/>
<circle cx="958.5" cy="2905.9" r="16.5" fill="#f50200"/>
<circle cx="1163.3" cy="2929.9" r="16.5" fill="#f50200"/>
<circle cx="1368.1" cy="2986.9" r="16.5" fill="#f50200"/>
<circle cx="1573.0" cy="2998.0" r="16.5" fill="#f50200"/>
<line x1="343.9" y1="2810.0" x2="343.9" y2="2780.3" stroke="#000" stroke-width="3.8" stroke-linecap="butt"/>
<line x1="343.9" y1="2840.0" x2="343.9" y2="2869.7" stroke="#000" stroke-width="3.8" stroke-linecap="butt"/>
<line x1="331.9" y1="2780.3" x2="355.9" y2="2780.3" stroke="#000" stroke-width="3.8" stroke-linecap="butt"/>
<line x1="331.9" y1="2869.7" x2="355.9" y2="2869.7" stroke="#000" stroke-width="3.8" stroke-linecap="butt"/>
<line x1="548.8" y1="2859.9" x2="548.8" y2="2855.0" stroke="#000" stroke-width="3.8" stroke-linecap="butt"/>
<line x1="548.8" y1="2889.9" x2="548.8" y2="2894.8" stroke="#000" stroke-width="3.8" stroke-linecap="butt"/>
<line x1="536.8" y1="2855.0" x2="560.8" y2="2855.0" stroke="#000" stroke-width="3.8" stroke-linecap="butt"/>
<line x1="536.8" y1="2894.8" x2="560.8" y2="2894.8" stroke="#000" stroke-width="3.8" stroke-linecap="butt"/>
<line x1="753.6" y1="2881.4" x2="753.6" y2="2888.4" stroke="#000" stroke-width="3.8" stroke-linecap="butt"/>
<line x1="753.6" y1="2911.4" x2="753.6" y2="2904.4" stroke="#000" stroke-width="3.8" stroke-linecap="butt"/>
<line x1="741.6" y1="2888.4" x2="765.6" y2="2888.4" stroke="#000" stroke-width="3.8" stroke-linecap="butt"/>
<line x1="741.6" y1="2904.4" x2="765.6" y2="2904.4" stroke="#000" stroke-width="3.8" stroke-linecap="butt"/>
<line x1="958.5" y1="3334.9" x2="958.5" y2="3287.8" stroke="#000" stroke-width="3.8" stroke-linecap="butt"/>
<line x1="958.5" y1="3364.9" x2="958.5" y2="3412.0" stroke="#000" stroke-width="3.8" stroke-linecap="butt"/>
<line x1="946.5" y1="3287.8" x2="970.5" y2="3287.8" stroke="#000" stroke-width="3.8" stroke-linecap="butt"/>
<line x1="946.5" y1="3412.0" x2="970.5" y2="3412.0" stroke="#000" stroke-width="3.8" stroke-linecap="butt"/>
<line x1="1163.3" y1="3412.8" x2="1163.3" y2="3396.5" stroke="#000" stroke-width="3.8" stroke-linecap="butt"/>
<line x1="1163.3" y1="3442.8" x2="1163.3" y2="3459.1" stroke="#000" stroke-width="3.8" stroke-linecap="butt"/>
<line x1="1151.3" y1="3396.5" x2="1175.3" y2="3396.5" stroke="#000" stroke-width="3.8" stroke-linecap="butt"/>
<line x1="1151.3" y1="3459.1" x2="1175.3" y2="3459.1" stroke="#000" stroke-width="3.8" stroke-linecap="butt"/>
<line x1="1368.1" y1="3437.5" x2="1368.1" y2="3385.5" stroke="#000" stroke-width="3.8" stroke-linecap="butt"/>
<line x1="1368.1" y1="3467.5" x2="1368.1" y2="3519.5" stroke="#000" stroke-width="3.8" stroke-linecap="butt"/>
<line x1="1356.1" y1="3385.5" x2="1380.1" y2="3385.5" stroke="#000" stroke-width="3.8" stroke-linecap="butt"/>
<line x1="1356.1" y1="3519.5" x2="1380.1" y2="3519.5" stroke="#000" stroke-width="3.8" stroke-linecap="butt"/>
<line x1="1573.0" y1="3507.9" x2="1573.0" y2="3471.6" stroke="#000" stroke-width="3.8" stroke-linecap="butt"/>
<line x1="1573.0" y1="3537.9" x2="1573.0" y2="3574.2" stroke="#000" stroke-width="3.8" stroke-linecap="butt"/>
<line x1="1561.0" y1="3471.6" x2="1585.0" y2="3471.6" stroke="#000" stroke-width="3.8" stroke-linecap="butt"/>
<line x1="1561.0" y1="3574.2" x2="1585.0" y2="3574.2" stroke="#000" stroke-width="3.8" stroke-linecap="butt"/>
<line x1="343.9" y1="2808.0" x2="343.9" y2="2714.8" stroke="#f50200" stroke-width="3.8" stroke-linecap="butt"/>
<line x1="343.9" y1="2841.0" x2="343.9" y2="2934.2" stroke="#f50200" stroke-width="3.8" stroke-linecap="butt"/>
<line x1="331.9" y1="2714.8" x2="355.9" y2="2714.8" stroke="#f50200" stroke-width="3.8" stroke-linecap="butt"/>
<line x1="331.9" y1="2934.2" x2="355.9" y2="2934.2" stroke="#f50200" stroke-width="3.8" stroke-linecap="butt"/>
<line x1="548.8" y1="2848.7" x2="548.8" y2="2843.3" stroke="#f50200" stroke-width="3.8" stroke-linecap="butt"/>
<line x1="548.8" y1="2881.7" x2="548.8" y2="2887.1" stroke="#f50200" stroke-width="3.8" stroke-linecap="butt"/>
<line x1="536.8" y1="2843.3" x2="560.8" y2="2843.3" stroke="#f50200" stroke-width="3.8" stroke-linecap="butt"/>
<line x1="536.8" y1="2887.1" x2="560.8" y2="2887.1" stroke="#f50200" stroke-width="3.8" stroke-linecap="butt"/>
<line x1="753.6" y1="2868.2" x2="753.6" y2="2854.9" stroke="#f50200" stroke-width="3.8" stroke-linecap="butt"/>
<line x1="753.6" y1="2901.2" x2="753.6" y2="2914.5" stroke="#f50200" stroke-width="3.8" stroke-linecap="butt"/>
<line x1="741.6" y1="2854.9" x2="765.6" y2="2854.9" stroke="#f50200" stroke-width="3.8" stroke-linecap="butt"/>
<line x1="741.6" y1="2914.5" x2="765.6" y2="2914.5" stroke="#f50200" stroke-width="3.8" stroke-linecap="butt"/>
<line x1="958.5" y1="2889.4" x2="958.5" y2="2826.3" stroke="#f50200" stroke-width="3.8" stroke-linecap="butt"/>
<line x1="958.5" y1="2922.4" x2="958.5" y2="2985.5" stroke="#f50200" stroke-width="3.8" stroke-linecap="butt"/>
<line x1="946.5" y1="2826.3" x2="970.5" y2="2826.3" stroke="#f50200" stroke-width="3.8" stroke-linecap="butt"/>
<line x1="946.5" y1="2985.5" x2="970.5" y2="2985.5" stroke="#f50200" stroke-width="3.8" stroke-linecap="butt"/>
<line x1="1163.3" y1="2913.4" x2="1163.3" y2="2909.9" stroke="#f50200" stroke-width="3.8" stroke-linecap="butt"/>
<line x1="1163.3" y1="2946.4" x2="1163.3" y2="2949.9" stroke="#f50200" stroke-width="3.8" stroke-linecap="butt"/>
<line x1="1151.3" y1="2909.9" x2="1175.3" y2="2909.9" stroke="#f50200" stroke-width="3.8" stroke-linecap="butt"/>
<line x1="1151.3" y1="2949.9" x2="1175.3" y2="2949.9" stroke="#f50200" stroke-width="3.8" stroke-linecap="butt"/>
<line x1="1368.1" y1="2970.4" x2="1368.1" y2="2943.2" stroke="#f50200" stroke-width="3.8" stroke-linecap="butt"/>
<line x1="1368.1" y1="3003.4" x2="1368.1" y2="3030.6" stroke="#f50200" stroke-width="3.8" stroke-linecap="butt"/>
<line x1="1356.1" y1="2943.2" x2="1380.1" y2="2943.2" stroke="#f50200" stroke-width="3.8" stroke-linecap="butt"/>
<line x1="1356.1" y1="3030.6" x2="1380.1" y2="3030.6" stroke="#f50200" stroke-width="3.8" stroke-linecap="butt"/>
<line x1="1573.0" y1="2981.5" x2="1573.0" y2="2975.8" stroke="#f50200" stroke-width="3.8" stroke-linecap="butt"/>
<line x1="1573.0" y1="3014.5" x2="1573.0" y2="3020.2" stroke="#f50200" stroke-width="3.8" stroke-linecap="butt"/>
<line x1="1561.0" y1="2975.8" x2="1585.0" y2="2975.8" stroke="#f50200" stroke-width="3.8" stroke-linecap="butt"/>
<line x1="1561.0" y1="3020.2" x2="1585.0" y2="3020.2" stroke="#f50200" stroke-width="3.8" stroke-linecap="butt"/>
<text x="207.3" y="3766.2" font-size="55.5" text-anchor="end">0</text>
<text x="207.3" y="3581.2" font-size="55.5" text-anchor="end">20</text>
<text x="207.3" y="3396.1" font-size="55.5" text-anchor="end">40</text>
<text x="207.3" y="3211.1" font-size="55.5" text-anchor="end">60</text>
<text x="207.3" y="3026.0" font-size="55.5" text-anchor="end">80</text>
<text x="207.3" y="2841.0" font-size="55.5" text-anchor="end">100</text>
<text x="305.3" y="3843.5" font-size="55.5" text-anchor="start">Mg</text>
<text x="383.2" y="3813.0" font-size="33" text-anchor="start">2+</text>
<text x="516.4" y="3842.5" font-size="55.5" text-anchor="start">Na</text>
<text x="582.0" y="3813.3" font-size="33" text-anchor="start">+</text>
<text x="715.1" y="3842.5" font-size="55.5" text-anchor="start">Ca</text>
<text x="777.0" y="3812.0" font-size="33" text-anchor="start">2+</text>
<text x="916.3" y="3844.0" font-size="55.5" text-anchor="start">Zn</text>
<text x="978.8" y="3814.0" font-size="33" text-anchor="start">2+</text>
<text x="1137.9" y="3844.0" font-size="49.5" text-anchor="start">Mn</text>
<text x="1208.0" y="3816.4" font-size="29" text-anchor="start">2+</text>
<text x="1338.9" y="3846.5" font-size="55.5" text-anchor="start">Ni</text>
<text x="1395.6" y="3815.8" font-size="33" text-anchor="start">2+</text>
<text x="1541.9" y="3842.0" font-size="55.5" text-anchor="start">Cu</text>
<text x="1607.1" y="3811.8" font-size="33" text-anchor="start">2+</text>
<text x="29.1" y="2715.5" font-size="65" text-anchor="start">(C)</text>
<text transform="translate(80,3233.1) rotate(-90)" font-size="65" text-anchor="middle">Relative activity (%)</text>
<text x="823.5" y="3938.0" font-size="65" text-anchor="start">Metal ions</text>
<rect x="359.3" y="3554.0" width="30.0" height="30.0" fill="#000"/>
<circle cx="374.5" cy="3637.5" r="16.5" fill="#f50200"/>
<text x="451.7" y="3588.2" font-size="55.5" text-anchor="start">Free lipase</text>
<text x="451.7" y="3655.1" font-size="55.5" text-anchor="start">Immobilized lipase</text>
</svg></body></html>
